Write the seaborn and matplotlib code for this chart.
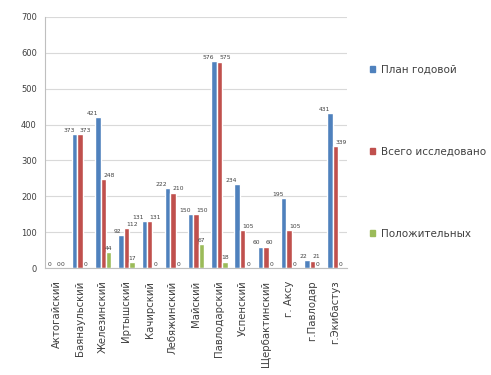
import pandas as pd
import numpy as np
import matplotlib
matplotlib.use("Agg")
import matplotlib.pyplot as plt
import seaborn as sns

districts = ["Актогайский", "Баянаульский", "Железинский", "Иртышский", "Качирский",
             "Лебяжинский", "Майский", "Павлодарский", "Успенский", "Щербактинский",
             "г. Аксу", "г.Павлодар", "г.Экибастуз"]
plan = [0, 373, 421, 92, 131, 222, 150, 576, 234, 60, 195, 22, 431]
total = [0, 373, 248, 112, 131, 210, 150, 575, 105, 60, 105, 21, 339]
positive = [0, 0, 44, 17, 0, 0, 67, 18, 0, 0, 0, 0, 0]
series_names = ["План годовой", "Всего исследовано", "Положительных"]
colors = ["#4F81BD", "#C0504D", "#9BBB59"]


def build_frame():
    rows = []
    for name, vals in zip(series_names, [plan, total, positive]):
        for d, v in zip(districts, vals):
            rows.append({"district": d, "series": name, "value": v})
    return pd.DataFrame(rows)


def main():
    sns.set_style("whitegrid")
    plt.rcParams["font.family"] = ["DejaVu Sans"]
    df = build_frame()

    fig = plt.figure(figsize=(4.91, 3.75), dpi=100)
    ax = fig.add_axes([0.092, 0.285, 0.615, 0.67])

    sns.barplot(data=df, x="district", y="value", hue="series", palette=colors,
                saturation=1, width=0.7, ax=ax, errorbar=None, legend=False)

    # labels of the first two series sit side by side, like in Excel
    aligns = ["right", "left", "center"]
    for cont, ha in zip(ax.containers, aligns):
        texts = ax.bar_label(cont, fontsize=4.3, color="#404040", padding=1)
        for t in texts:
            t.set_ha(ha)

    ax.set_ylim(0, 700)
    ax.set_yticks(range(0, 701, 100))
    ax.set_xlim(-0.5, len(districts) - 0.5)
    ax.set_xlabel("")
    ax.set_ylabel("")
    ax.grid(axis="y", color="#D9D9D9", linewidth=0.8)
    ax.grid(axis="x", visible=False)
    ax.tick_params(axis="y", labelsize=6, colors="#404040", length=0, pad=6)
    ax.tick_params(axis="x", labelsize=7.3, colors="#404040", length=0, pad=9)
    plt.setp(ax.get_xticklabels(), rotation=90)
    for side in ["top", "right"]:
        ax.spines[side].set_visible(False)
    ax.spines["left"].set_color("#BFBFBF")
    ax.spines["bottom"].set_color("#BFBFBF")

    handles = [plt.Rectangle((0, 0), 1, 1, color=c) for c in colors]
    fig.legend(handles, series_names, loc="center left", bbox_to_anchor=(0.735, 0.595),
               frameon=False, fontsize=7.5, handlelength=0.5, handleheight=0.5,
               handletextpad=0.5, labelspacing=6.9, labelcolor="#404040")

    plt.savefig("out.png", dpi=100)
    plt.close()


if __name__ == "__main__":
    main()
